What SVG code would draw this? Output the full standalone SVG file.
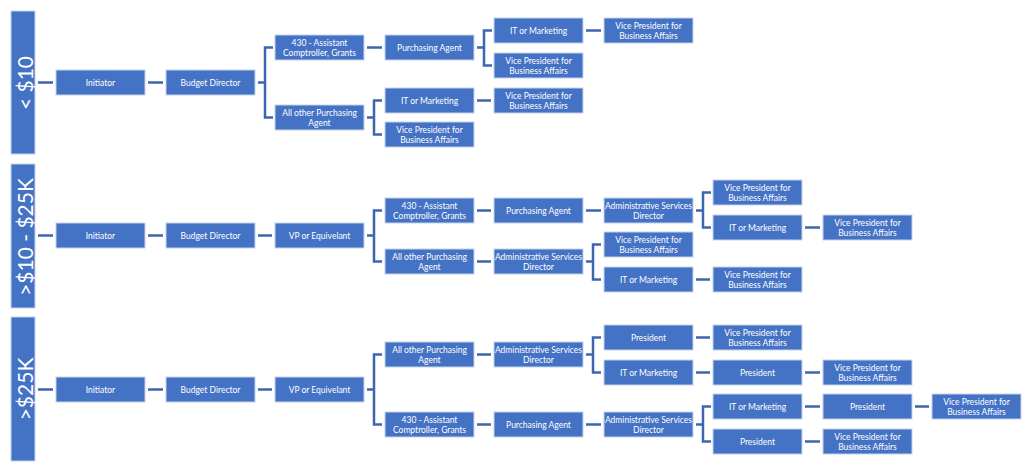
<svg xmlns="http://www.w3.org/2000/svg" width="1024" height="472" viewBox="0 0 1024 472">
<style>
.bg{fill:#ffffff}
.bar{fill:#4472C4;stroke:#C5D3EE;stroke-width:1}
.bx{fill:#4472C4;stroke:#C5D3EE;stroke-width:1}
.t{font-family:Lato,"Liberation Sans",sans-serif;font-size:8.5px;fill:#ffffff;text-anchor:middle;dominant-baseline:central}
.bt{font-family:Lato,"Liberation Sans",sans-serif;font-size:21px;fill:#ffffff;text-anchor:middle;dominant-baseline:central}
.c{fill:none;stroke:#3E66AE;stroke-width:2.5}
</style>
<rect class="bg" x="0" y="0" width="1024" height="472"/>

<g id="connectors">
<!-- section 1 -->
<path class="c" d="M38 82.5 H53 M148 82.5 H163 M258 82.5 H265 M273 47.5 H265 V117.5 H273"/>
<path class="c" d="M367 47.5 H382 M477 47.5 H484 M492 30.5 H484 V65.5 H492 M586 30.5 H601"/>
<path class="c" d="M367 117.5 H374 M382 100.5 H374 V134.5 H382 M477 100.5 H491"/>
<!-- section 2 -->
<path class="c" d="M38 235.5 H53 M148 235.5 H163 M258 235.5 H272 M367 235.5 H374 M382 210.5 H374 V261.5 H382"/>
<path class="c" d="M477 210.5 H491 M586 210.5 H601 M696 210.5 H703 M711 192.5 H703 V227.5 H711 M805 227.5 H820"/>
<path class="c" d="M477 261.5 H491 M586 261.5 H593 M601 244.5 H593 V279.5 H601 M696 279.5 H710"/>
<!-- section 3 -->
<path class="c" d="M38 389.5 H53 M148 389.5 H163 M258 389.5 H272 M367 389.5 H374 M382 354.5 H374 V424.5 H382"/>
<path class="c" d="M477 354.5 H491 M586 354.5 H593 M601 337.5 H593 V372.5 H601 M696 337.5 H710 M696 372.5 H710 M805 372.5 H820"/>
<path class="c" d="M477 424.5 H491 M586 424.5 H601 M696 424.5 H703 M711 406.5 H703 V441.5 H711 M805 406.5 H820 M915 406.5 H929 M805 441.5 H820"/>
</g>

<!-- Section labels -->
<g id="label1"><rect class="bar" x="11" y="11" width="24" height="143"/><text class="bt" transform="translate(24 83) rotate(-90)">&lt; $10</text></g>
<g id="label2"><rect class="bar" x="11" y="164" width="24" height="144"/><text class="bt" transform="translate(24 237) rotate(-90)">&gt;$10 - $25K</text></g>
<g id="label3"><rect class="bar" x="11" y="317" width="24" height="144"/><text class="bt" transform="translate(24 389) rotate(-90)">&gt;$25K</text></g>

<!-- Section 1 -->
<g id="s1-initiator"><rect class="bx" x="56" y="70" width="89" height="25"/><text class="t" x="100.5" y="82.5">Initiator</text></g>
<g id="s1-budget"><rect class="bx" x="166" y="70" width="89" height="25"/><text class="t" x="210.5" y="82.5">Budget Director</text></g>
<g id="s1-430"><rect class="bx" x="275" y="35" width="89" height="25"/><text class="t" x="319.5" y="42.5">430 - Assistant</text><text class="t" x="319.5" y="52.5">Comptroller, Grants</text></g>
<g id="s1-allother"><rect class="bx" x="275" y="105" width="89" height="25"/><text class="t" x="319.5" y="112.5">All other Purchasing</text><text class="t" x="319.5" y="122.5">Agent</text></g>
<g id="s1-pa"><rect class="bx" x="385" y="35" width="89" height="25"/><text class="t" x="429.5" y="47.5">Purchasing Agent</text></g>
<g id="s1-it1"><rect class="bx" x="494" y="18" width="89" height="25"/><text class="t" x="538.5" y="30.5">IT or Marketing</text></g>
<g id="s1-vp1"><rect class="bx" x="604" y="18" width="89" height="25"/><text class="t" x="648.5" y="25.5">Vice President for</text><text class="t" x="648.5" y="35.5">Business Affairs</text></g>
<g id="s1-vp2"><rect class="bx" x="494" y="53" width="89" height="25"/><text class="t" x="538.5" y="60.5">Vice President for</text><text class="t" x="538.5" y="70.5">Business Affairs</text></g>
<g id="s1-it2"><rect class="bx" x="385" y="88" width="89" height="25"/><text class="t" x="429.5" y="100.5">IT or Marketing</text></g>
<g id="s1-vp3"><rect class="bx" x="494" y="88" width="89" height="25"/><text class="t" x="538.5" y="95.5">Vice President for</text><text class="t" x="538.5" y="105.5">Business Affairs</text></g>
<g id="s1-vp4"><rect class="bx" x="385" y="122" width="89" height="25"/><text class="t" x="429.5" y="129.5">Vice President for</text><text class="t" x="429.5" y="139.5">Business Affairs</text></g>

<!-- Section 2 -->
<g id="s2-initiator"><rect class="bx" x="56" y="223" width="89" height="25"/><text class="t" x="100.5" y="235.5">Initiator</text></g>
<g id="s2-budget"><rect class="bx" x="166" y="223" width="89" height="25"/><text class="t" x="210.5" y="235.5">Budget Director</text></g>
<g id="s2-vpe"><rect class="bx" x="275" y="223" width="89" height="25"/><text class="t" x="319.5" y="235.5">VP or Equivelant</text></g>
<g id="s2-430"><rect class="bx" x="385" y="198" width="89" height="25"/><text class="t" x="429.5" y="205.5">430 - Assistant</text><text class="t" x="429.5" y="215.5">Comptroller, Grants</text></g>
<g id="s2-pa"><rect class="bx" x="494" y="198" width="89" height="25"/><text class="t" x="538.5" y="210.5">Purchasing Agent</text></g>
<g id="s2-asd1"><rect class="bx" x="604" y="198" width="89" height="25"/><text class="t" x="648.5" y="205.5">Administrative Services</text><text class="t" x="648.5" y="215.5">Director</text></g>
<g id="s2-vp1"><rect class="bx" x="713" y="180" width="89" height="25"/><text class="t" x="757.5" y="187.5">Vice President for</text><text class="t" x="757.5" y="197.5">Business Affairs</text></g>
<g id="s2-it1"><rect class="bx" x="713" y="215" width="89" height="25"/><text class="t" x="757.5" y="227.5">IT or Marketing</text></g>
<g id="s2-vp2"><rect class="bx" x="823" y="215" width="89" height="25"/><text class="t" x="867.5" y="222.5">Vice President for</text><text class="t" x="867.5" y="232.5">Business Affairs</text></g>
<g id="s2-allother"><rect class="bx" x="385" y="249" width="89" height="25"/><text class="t" x="429.5" y="256.5">All other Purchasing</text><text class="t" x="429.5" y="266.5">Agent</text></g>
<g id="s2-asd2"><rect class="bx" x="494" y="249" width="89" height="25"/><text class="t" x="538.5" y="256.5">Administrative Services</text><text class="t" x="538.5" y="266.5">Director</text></g>
<g id="s2-vp3"><rect class="bx" x="604" y="232" width="89" height="25"/><text class="t" x="648.5" y="239.5">Vice President for</text><text class="t" x="648.5" y="249.5">Business Affairs</text></g>
<g id="s2-it2"><rect class="bx" x="604" y="267" width="89" height="25"/><text class="t" x="648.5" y="279.5">IT or Marketing</text></g>
<g id="s2-vp4"><rect class="bx" x="713" y="267" width="89" height="25"/><text class="t" x="757.5" y="274.5">Vice President for</text><text class="t" x="757.5" y="284.5">Business Affairs</text></g>

<!-- Section 3 -->
<g id="s3-initiator"><rect class="bx" x="56" y="377" width="89" height="25"/><text class="t" x="100.5" y="389.5">Initiator</text></g>
<g id="s3-budget"><rect class="bx" x="166" y="377" width="89" height="25"/><text class="t" x="210.5" y="389.5">Budget Director</text></g>
<g id="s3-vpe"><rect class="bx" x="275" y="377" width="89" height="25"/><text class="t" x="319.5" y="389.5">VP or Equivelant</text></g>
<g id="s3-allother"><rect class="bx" x="385" y="342" width="89" height="25"/><text class="t" x="429.5" y="349.5">All other Purchasing</text><text class="t" x="429.5" y="359.5">Agent</text></g>
<g id="s3-asd1"><rect class="bx" x="494" y="342" width="89" height="25"/><text class="t" x="538.5" y="349.5">Administrative Services</text><text class="t" x="538.5" y="359.5">Director</text></g>
<g id="s3-pres1"><rect class="bx" x="604" y="325" width="89" height="25"/><text class="t" x="648.5" y="337.5">President</text></g>
<g id="s3-vp1"><rect class="bx" x="713" y="325" width="89" height="25"/><text class="t" x="757.5" y="332.5">Vice President for</text><text class="t" x="757.5" y="342.5">Business Affairs</text></g>
<g id="s3-it1"><rect class="bx" x="604" y="360" width="89" height="25"/><text class="t" x="648.5" y="372.5">IT or Marketing</text></g>
<g id="s3-pres2"><rect class="bx" x="713" y="360" width="89" height="25"/><text class="t" x="757.5" y="372.5">President</text></g>
<g id="s3-vp2"><rect class="bx" x="823" y="360" width="89" height="25"/><text class="t" x="867.5" y="367.5">Vice President for</text><text class="t" x="867.5" y="377.5">Business Affairs</text></g>
<g id="s3-430"><rect class="bx" x="385" y="412" width="89" height="25"/><text class="t" x="429.5" y="419.5">430 - Assistant</text><text class="t" x="429.5" y="429.5">Comptroller, Grants</text></g>
<g id="s3-pa"><rect class="bx" x="494" y="412" width="89" height="25"/><text class="t" x="538.5" y="424.5">Purchasing Agent</text></g>
<g id="s3-asd2"><rect class="bx" x="604" y="412" width="89" height="25"/><text class="t" x="648.5" y="419.5">Administrative Services</text><text class="t" x="648.5" y="429.5">Director</text></g>
<g id="s3-it2"><rect class="bx" x="713" y="394" width="89" height="25"/><text class="t" x="757.5" y="406.5">IT or Marketing</text></g>
<g id="s3-pres3"><rect class="bx" x="823" y="394" width="89" height="25"/><text class="t" x="867.5" y="406.5">President</text></g>
<g id="s3-vp3"><rect class="bx" x="932" y="394" width="89" height="25"/><text class="t" x="976.5" y="401.5">Vice President for</text><text class="t" x="976.5" y="411.5">Business Affairs</text></g>
<g id="s3-pres4"><rect class="bx" x="713" y="429" width="89" height="25"/><text class="t" x="757.5" y="441.5">President</text></g>
<g id="s3-vp4"><rect class="bx" x="823" y="429" width="89" height="25"/><text class="t" x="867.5" y="436.5">Vice President for</text><text class="t" x="867.5" y="446.5">Business Affairs</text></g>
</svg>
